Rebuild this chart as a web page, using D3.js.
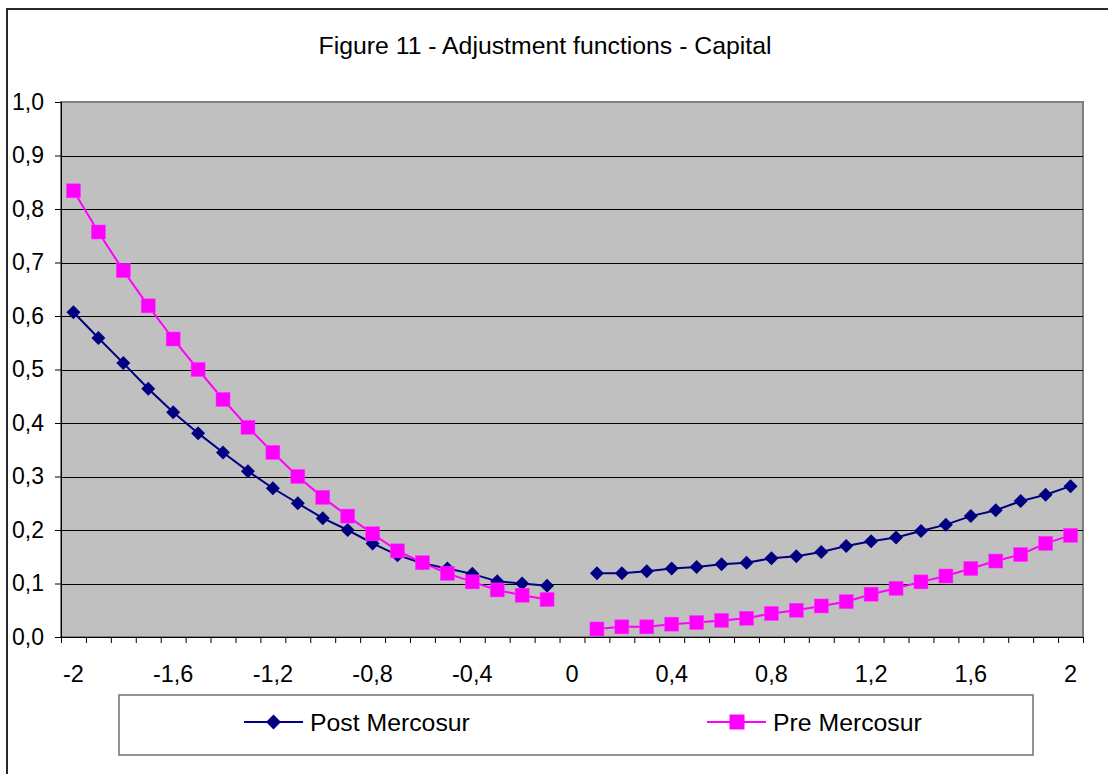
<!DOCTYPE html>
<html>
<head>
<meta charset="utf-8">
<script src="https://cdn.jsdelivr.net/npm/d3@7"></script>
<style>
  html, body { margin: 0; padding: 0; background: #ffffff; }
  svg { display: block; font-family: "Liberation Sans", Arial, sans-serif; }
</style>
</head>
<body>
<svg id="chart" width="1108" height="774"></svg>
<script>
// ---- data ----
const categories = [-2,-1.9,-1.8,-1.7,-1.6,-1.5,-1.4,-1.3,-1.2,-1.1,-1,-0.9,-0.8,-0.7,-0.6,-0.5,-0.4,-0.3,-0.2,-0.1,0,
                    0.1,0.2,0.3,0.4,0.5,0.6,0.7,0.8,0.9,1,1.1,1.2,1.3,1.4,1.5,1.6,1.7,1.8,1.9,2];
const postMercosur = [0.607,0.559,0.512,0.464,0.420,0.381,0.345,0.310,0.278,0.250,0.222,0.200,0.175,0.153,0.138,0.128,0.118,0.104,0.100,0.096,null,
                      0.119,0.119,0.123,0.128,0.131,0.136,0.139,0.147,0.151,0.159,0.170,0.179,0.186,0.198,0.210,0.226,0.237,0.254,0.266,0.282];
const preMercosur  = [0.834,0.757,0.685,0.619,0.557,0.500,0.444,0.392,0.345,0.300,0.261,0.226,0.193,0.161,0.139,0.119,0.103,0.088,0.078,0.070,null,
                      0.015,0.019,0.019,0.024,0.027,0.031,0.035,0.044,0.050,0.058,0.066,0.080,0.091,0.103,0.114,0.128,0.142,0.154,0.175,0.190];
const xTickCategories = [-2,-1.6,-1.2,-0.8,-0.4,0,0.4,0.8,1.2,1.6,2];
const xTickLabels = ["-2","-1,6","-1,2","-0,8","-0,4","0","0,4","0,8","1,2","1,6","2"];
const yTickValues = [0,0.1,0.2,0.3,0.4,0.5,0.6,0.7,0.8,0.9,1.0];
const yTickLabels = ["0,0","0,1","0,2","0,3","0,4","0,5","0,6","0,7","0,8","0,9","1,0"];
const seriesNames = ["Post Mercosur","Pre Mercosur"];
const titleText = "Figure 11 - Adjustment functions - Capital";

// ---- layout ----
const L = 61, R = 1083, T = 102, B = 637;
const svg = d3.select("#chart");

// outer frame
svg.append("rect").attr("x", 7).attr("y", 9).attr("width", 1200).attr("height", 900)
  .attr("fill", "#fff").attr("stroke", "#2a2a2a").attr("stroke-width", 2);

// title
svg.append("text").attr("x", 545).attr("y", 54).attr("text-anchor", "middle")
  .attr("font-size", 24.8).attr("fill", "#000").text(titleText);

const x = d3.scaleBand().domain(categories.map((d, i) => i)).range([L, R]).padding(0);
const xIdx = d3.scaleLinear().domain([0, categories.length]).range([L, R]);
const y = d3.scaleLinear().domain([0, 1]).range([B, T]);
const cx = i => x(i) + x.bandwidth() / 2;

// plot area
svg.append("rect").attr("x", L).attr("y", T).attr("width", R - L).attr("height", B - T)
  .attr("fill", "#c0c0c0").attr("stroke", "#808080").attr("stroke-width", 2);

// gridlines
svg.append("g").selectAll("line").data(yTickValues.filter(v => v > 0 && v < 1)).join("line")
  .attr("x1", L).attr("x2", R).attr("y1", d => Math.round(y(d)) + 0.5).attr("y2", d => Math.round(y(d)) + 0.5)
  .attr("stroke", "#000").attr("stroke-width", 1);

// y axis
const yAxis = svg.append("g").attr("transform", `translate(${L},0)`)
  .call(d3.axisLeft(y).tickValues(yTickValues).tickSize(6).tickPadding(11)
    .tickFormat((d, i) => yTickLabels[i]));
yAxis.select(".domain").attr("stroke", "#000");
yAxis.selectAll(".tick line").attr("stroke", "#000");
yAxis.selectAll("text").attr("font-size", 23).attr("fill", "#000")
  .attr("font-family", "'Liberation Sans', Arial, sans-serif");

// x axis tick marks at category boundaries
const xAxisTicks = svg.append("g").attr("transform", `translate(0,${B})`)
  .call(d3.axisBottom(xIdx).tickValues(d3.range(categories.length + 1)).tickSize(6).tickFormat(""));
xAxisTicks.select(".domain").attr("stroke", "#000");
xAxisTicks.selectAll(".tick line").attr("stroke", "#000");

// x axis labels
const xLab = svg.append("g").attr("transform", `translate(0,${B})`)
  .call(d3.axisBottom(x).tickValues(xTickCategories.map(c => categories.indexOf(c)))
    .tickSize(0).tickPadding(28).tickFormat((d, i) => xTickLabels[i]));
xLab.select(".domain").remove();
xLab.selectAll("text").attr("font-size", 23.5).attr("fill", "#000")
  .attr("font-family", "'Liberation Sans', Arial, sans-serif");

// series
const line = d3.line().defined(d => d.v != null).x(d => cx(d.i)).y(d => y(d.v));
const postData = postMercosur.map((v, i) => ({ i, v }));
const preData = preMercosur.map((v, i) => ({ i, v }));
const diamond = (px, py, r) => `M${px},${py - r}L${px + r},${py}L${px},${py + r}L${px - r},${py}Z`;

svg.append("path").datum(postData).attr("d", line).attr("fill", "none")
  .attr("stroke", "#000080").attr("stroke-width", 2);
svg.append("g").selectAll("path").data(postData.filter(d => d.v != null)).join("path")
  .attr("d", d => diamond(cx(d.i), y(d.v), 7)).attr("fill", "#000080");

svg.append("path").datum(preData).attr("d", line).attr("fill", "none")
  .attr("stroke", "#ff00ff").attr("stroke-width", 2);
svg.append("g").selectAll("rect").data(preData.filter(d => d.v != null)).join("rect")
  .attr("x", d => cx(d.i) - 7).attr("y", d => y(d.v) - 7).attr("width", 14).attr("height", 14)
  .attr("fill", "#ff00ff").attr("stroke", "#ff33ff").attr("stroke-width", 0.5);

// legend
svg.append("rect").attr("x", 119).attr("y", 695).attr("width", 914).attr("height", 60)
  .attr("fill", "#fff").attr("stroke", "#707070").attr("stroke-width", 1.5);
const ly = 722;
svg.append("line").attr("x1", 244).attr("x2", 303).attr("y1", ly).attr("y2", ly)
  .attr("stroke", "#000080").attr("stroke-width", 2);
svg.append("path").attr("d", diamond(273.5, ly, 7.5)).attr("fill", "#000080");
svg.append("text").attr("x", 310).attr("y", ly + 8.5).attr("font-size", 24.8).attr("fill", "#000").text(seriesNames[0]);

svg.append("line").attr("x1", 707).attr("x2", 766).attr("y1", ly).attr("y2", ly)
  .attr("stroke", "#ff00ff").attr("stroke-width", 2);
svg.append("rect").attr("x", 737 - 7.5).attr("y", ly - 7.5).attr("width", 15).attr("height", 15).attr("fill", "#ff00ff");
svg.append("text").attr("x", 773).attr("y", ly + 8.5).attr("font-size", 24.8).attr("fill", "#000").text(seriesNames[1]);
</script>
</body>
</html>
